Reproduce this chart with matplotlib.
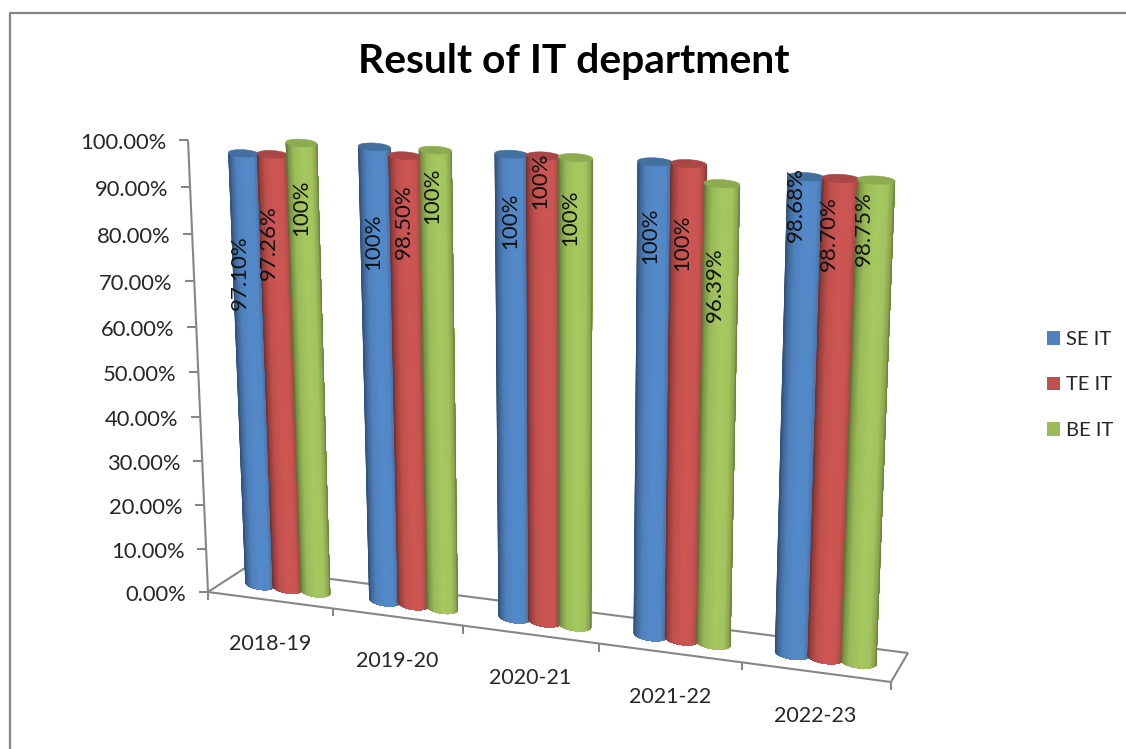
import numpy as np
import matplotlib
matplotlib.use('Agg')
import matplotlib.pyplot as plt
from matplotlib.patches import Polygon, Patch
from matplotlib.transforms import Transform

plt.rcParams['font.family'] = ['Lato', 'DejaVu Sans']

years = ['2018-19', '2019-20', '2020-21', '2021-22', '2022-23']
series_names = ['SE IT', 'TE IT', 'BE IT']
se_it = [97.10, 100, 100, 100, 98.68]
te_it = [97.26, 98.50, 100, 100, 98.70]
be_it = [100, 100, 100, 96.39, 98.75]
se_labels = ['97.10%', '100%', '100%', '100%', '98.68%']
te_labels = ['97.26%', '98.50%', '100%', '100%', '98.70%']
be_labels = ['100%', '100%', '100%', '96.39%', '98.75%']
y_ticks = [0, 10, 20, 30, 40, 50, 60, 70, 80, 90, 100]

colors = ['#4F81BD', '#C0504D', '#9BBB59']
caps = ['#44709F', '#A84745', '#8DAB50']
axis_grey = '#868686'
text_col = '#262626'

# where the hand placed data labels sit, one row per series
label_xy = [
    [(240, 273), (373, 242), (510, 221), (650, 236), (796, 205)],
    [(269, 243), (404, 222), (540, 181), (682, 243), (829, 234)],
    [(301, 208), (432, 196), (570, 218), (715, 285), (864, 229)],
]


class PlaneTransform(Transform):
    # perspective map of the (category, value) plane on to picture pixels
    input_dims = 2
    output_dims = 2
    is_separable = False
    has_inverse = False

    def __init__(self, corners):
        super().__init__()
        src = [(0, 0), (5, 0), (0, 100), (5, 100)]
        a = []
        b = []
        for (u, v), (x, y) in zip(src, corners):
            a.append([u, v, 1, 0, 0, 0, -u * x, -v * x])
            a.append([0, 0, 0, u, v, 1, -u * y, -v * y])
            b += [x, y]
        self.h = np.append(np.linalg.solve(np.array(a, float), np.array(b, float)), 1).reshape(3, 3)

    def transform_non_affine(self, values):
        values = np.asarray(values, float)
        p = np.column_stack([values, np.ones(len(values))]) @ self.h.T
        return p[:, :2] / p[:, 2:]


fig = plt.figure(figsize=(11.26, 7.49), dpi=100)
ax = fig.add_axes([0, 0, 1, 1])
ax.set_xlim(0, 1126)
ax.set_ylim(749, 0)
ax.axis('off')

front = PlaneTransform([(208, 592), (891, 682), (188, 140), (911, 179)]) + ax.transData
back = PlaneTransform([(245, 568), (908, 653), (208, 136), (929, 173)]) + ax.transData
mid = PlaneTransform([(226.5, 580), (899.5, 667.5), (208, 138), (920, 176)]) + ax.transData
to_pixels = ax.transData.inverted()

# outer frame of the pasted chart
ax.plot([10, 10, 1126], [749, 13, 13], color='#858585', lw=1.6)

ax.text(574, 61, 'Result of IT department', fontsize=29.3, fontweight='bold',
        color='black', ha='center', va='center')

# floor and axes
line_style = dict(color=axis_grey, lw=1.5, solid_capstyle='butt', zorder=1)
ax.plot([0, 5], [0, 0], transform=front, **line_style)
ax.plot([0, 5], [0, 0], transform=back, **line_style)
for u in [0, 5]:
    p0 = to_pixels.transform(front.transform((u, 0)))
    p1 = to_pixels.transform(back.transform((u, 0)))
    ax.plot([p0[0], p1[0]], [p0[1], p1[1]], **line_style)
ax.plot([0, 0], [0, 100], transform=front, **line_style)

for t in y_ticks:
    x, y = to_pixels.transform(front.transform((0, t)))
    ax.plot([x - 9, x], [y, y], **line_style)
    ax.text(x - 21.5, y + 3, '%.2f%%' % t, fontsize=15.8, color=text_col, ha='right', va='center')

for i in range(6):
    x, y = to_pixels.transform(front.transform((i, 0)))
    ax.plot([x, x], [y, y + 8], **line_style)

for i, year in enumerate(years):
    x, y = to_pixels.transform(front.transform((i + 0.5, 0)))
    ax.text(x, y + 44, year, fontsize=15.5, color=text_col, ha='center', va='center')


def draw_cylinder(u, half, value, color, cap, z):
    rgb = np.array(matplotlib.colors.to_rgb(color))
    angles = np.linspace(np.pi, 0, 61)
    for k, a0 in enumerate(angles[:-1]):
        # each strip runs on to the right edge, the next one paints over it
        rest = angles[k:]
        t = 0.5 - np.cos(a0 + np.pi / 120) / 2
        shade = np.interp(t, [0, 0.06, 0.22, 0.5, 0.78, 0.93, 1], [0.66, 0.88, 1.05, 1.07, 1.0, 0.8, 0.6])
        c = np.clip(rgb * shade, 0, 1)
        low = np.column_stack([u + half * np.cos(rest), -1.3 * np.sin(rest)])
        high = np.column_stack([u + half * np.cos(rest), value - 0.8 * np.sin(rest)])
        ax.add_patch(Polygon(np.vstack([low, high[::-1]]), closed=True, facecolor=c,
                             edgecolor='none', transform=mid, zorder=z))
    a = np.linspace(0, 2 * np.pi, 60)
    ax.add_patch(Polygon(np.column_stack([u + half * np.cos(a), value + 0.8 * np.sin(a)]),
                         closed=True, facecolor=cap, edgecolor=cap, lw=0.4, transform=mid, zorder=z))


bar_step = 0.225
for i in range(len(years)):
    for j, values in enumerate([se_it, te_it, be_it]):
        draw_cylinder(i + 0.5 + (j - 1) * bar_step, 0.12, values[i], colors[j], caps[j], 3 + j)

for j, texts in enumerate([se_labels, te_labels, be_labels]):
    for i, s in enumerate(texts):
        x, y = label_xy[j][i]
        ax.text(x, y, s, fontsize=16, rotation=90, color='#111111', ha='center', va='center', zorder=10)

handles = [Patch(facecolor=c, edgecolor='none') for c in colors]
ax.legend(handles, series_names, loc='center left', bbox_to_anchor=(1029, 385),
          bbox_transform=ax.transData, frameon=False, fontsize=14.5, labelcolor=text_col,
          handlelength=0.66, handleheight=0.66, handletextpad=0.3, labelspacing=1.42)

fig.savefig('out.png', dpi=100, facecolor='white')
